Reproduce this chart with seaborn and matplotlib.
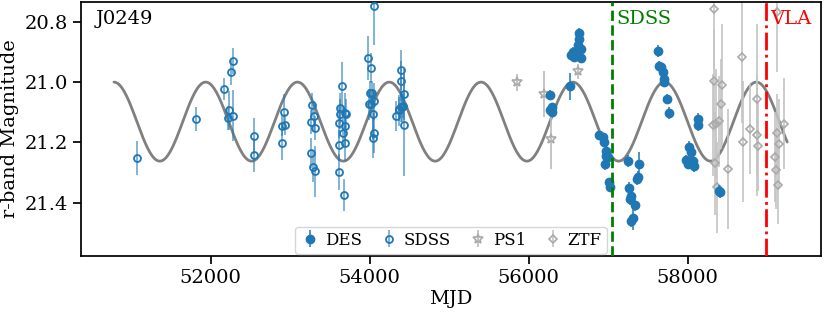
import numpy as np
import pandas as pd
import matplotlib
matplotlib.use("Agg")
import matplotlib.pyplot as plt
import matplotlib.transforms as mtransforms
import seaborn as sns

# DES photometry (filled circles)
des_mjd = [56270, 56287, 56296, 56270, 56525, 56638, 56630, 56617, 56554, 56534,
           56597, 56660, 56660, 56576, 56890, 56931, 56952, 56974, 56974, 56994,
           57015, 57024, 56965, 57245, 57392, 57371, 57358, 57266, 57288, 57275,
           57342, 57308, 57288, 57631, 57643, 57665, 57685, 57697, 57706, 57735,
           57769, 58124, 58133, 58011, 58041, 57978, 58020, 58062, 58083, 57999,
           58409, 58388]
des_mag = [21.042, 21.083, 21.100, 21.094, 21.014, 20.837, 20.856, 20.878, 20.900, 20.911,
           20.906, 20.889, 20.919, 20.917, 21.177, 21.183, 21.199, 21.227, 21.244, 21.249,
           21.332, 21.349, 21.271, 21.260, 21.271, 21.316, 21.321, 21.352, 21.376, 21.387,
           21.406, 21.450, 21.462, 20.898, 20.945, 20.950, 20.967, 20.989, 21.000, 21.055,
           21.103, 21.122, 21.141, 21.214, 21.233, 21.258, 21.266, 21.260, 21.277, 21.271,
           21.365, 21.360]
des_err = [0.015, 0.015, 0.015, 0.015, 0.045, 0.015, 0.015, 0.015, 0.015, 0.015,
           0.015, 0.015, 0.015, 0.015, 0.015, 0.015, 0.015, 0.015, 0.015, 0.015,
           0.015, 0.015, 0.02, 0.02, 0.04, 0.02, 0.02, 0.02, 0.02, 0.02,
           0.02, 0.04, 0.02, 0.02, 0.015, 0.015, 0.015, 0.015, 0.015, 0.015,
           0.02, 0.02, 0.02, 0.02, 0.02, 0.015, 0.015, 0.015, 0.02, 0.015,
           0.02, 0.02]

# SDSS photometry (open circles)
sdss_mjd = [51071, 51815, 52167, 52259, 52284, 52230, 52214, 52284, 52548, 52548,
            52904, 52904, 52933, 52929, 53281, 53297, 53269, 53310, 53260, 53289,
            53314, 53653, 53633, 53624, 53687, 53708, 53620, 53695, 53666, 53687,
            53612, 53620, 53674, 54055, 53980, 54017, 54001, 54035, 53992, 54051,
            54013, 54042, 54051, 54038, 54394, 54390, 54428, 54365, 54390, 54411,
            54336, 54432, 54375, 54420]
sdss_mag = [21.251, 21.121, 21.023, 20.968, 20.930, 21.094, 21.120, 21.111, 21.179, 21.241,
            21.203, 21.144, 21.142, 21.100, 21.075, 21.111, 21.133, 21.151, 21.234, 21.280,
            21.296, 21.013, 21.085, 21.105, 21.102, 21.105, 21.134, 21.147, 21.169, 21.203,
            21.210, 21.299, 21.375, 20.748, 20.921, 20.952, 21.035, 21.037, 21.074, 21.064,
            21.072, 21.107, 21.169, 21.186, 20.959, 20.997, 21.041, 21.094, 21.083, 21.081,
            21.113, 21.142, 21.088, 21.078]
sdss_err = [0.056, 0.040, 0.036, 0.043, 0.043, 0.066, 0.040, 0.085, 0.060, 0.056,
            0.056, 0.035, 0.035, 0.060, 0.040, 0.050, 0.040, 0.040, 0.050, 0.050,
            0.085, 0.080, 0.050, 0.050, 0.066, 0.050, 0.050, 0.066, 0.050, 0.060,
            0.050, 0.060, 0.053, 0.130, 0.073, 0.050, 0.040, 0.040, 0.050, 0.060,
            0.040, 0.083, 0.066, 0.066, 0.066, 0.066, 0.083, 0.050, 0.050, 0.050,
            0.050, 0.170, 0.040, 0.040]

# PS1 photometry (stars)
ps1_mjd = [55847, 56190, 56283, 56617]
ps1_mag = [21.001, 21.039, 21.188, 20.964]
ps1_err = [0.027, 0.077, 0.100, 0.025]

# ZTF photometry (diamonds)
ztf_mjd = [58325, 58325, 58426, 58418, 58313, 58355, 58397, 58343, 58363, 58501,
           58682, 58690, 58782, 58865, 58865, 58883, 59117, 59125, 59150, 59100,
           59109, 59129, 59213]
ztf_mag = [20.758, 20.997, 21.008, 21.072, 21.142, 21.138, 21.130, 21.269, 21.349, 21.288,
           20.917, 21.197, 21.155, 21.057, 21.177, 21.211, 20.767, 21.168, 21.205, 21.249,
           21.291, 21.340, 21.138]
ztf_err = [0.20, 0.17, 0.20, 0.15, 0.17, 0.18, 0.15, 0.17, 0.15, 0.20,
           0.22, 0.20, 0.15, 0.25, 0.20, 0.15, 0.20, 0.13, 0.15, 0.15,
           0.13, 0.13, 0.15]

# sinusoidal model parameters
MODEL_PERIOD = 1154.0
MODEL_T0 = 50785.0
MODEL_MEAN = 21.131
MODEL_AMP = 0.131
MODEL_START, MODEL_END = 50785, 59251

SDSS_SPEC_MJD = 57042
VLA_MJD = 58980

BLUE = "#1f77b4"

sns.set_theme(style="ticks")
plt.rcParams['font.family'] = ['DejaVu Serif']
plt.rcParams['font.size'] = 14
plt.rcParams['xtick.labelsize'] = 14
plt.rcParams['ytick.labelsize'] = 14
plt.rcParams['axes.labelsize'] = 14
plt.rcParams['axes.edgecolor'] = 'black'
plt.rcParams['xtick.color'] = 'black'
plt.rcParams['ytick.color'] = 'black'
plt.rcParams['text.color'] = 'black'
plt.rcParams['axes.labelcolor'] = 'black'

fig, ax = plt.subplots(figsize=(8.3, 3.12), dpi=100)
fig.subplots_adjust(left=0.0976, right=0.989, bottom=0.179, top=0.994)

t = np.linspace(MODEL_START, MODEL_END, 600)
model = pd.DataFrame({
    'MJD': t,
    'mag': MODEL_MEAN - MODEL_AMP * np.cos(2 * np.pi * (t - MODEL_T0) / MODEL_PERIOD),
})
sns.lineplot(data=model, x='MJD', y='mag', color='grey', lw=2, ax=ax, zorder=1)

ax.errorbar(des_mjd, des_mag, yerr=des_err, fmt='o', color=BLUE, ms=6,
            ecolor=BLUE, elinewidth=1.1, label='DES', zorder=4)
ax.errorbar(sdss_mjd, sdss_mag, yerr=sdss_err, fmt='o', mfc='none', mec=BLUE,
            mew=1.3, ms=5, ecolor=(0.12, 0.47, 0.71, 0.6), elinewidth=1.3,
            label='SDSS', zorder=3)
ax.errorbar(ps1_mjd, ps1_mag, yerr=ps1_err, fmt='*', mfc='none', mec='#aaaaaa',
            mew=1.2, ms=7, ecolor='#bbbbbb', elinewidth=1.2, label='PS1', zorder=2)
ax.errorbar(ztf_mjd, ztf_mag, yerr=ztf_err, fmt='D', mfc='none', mec='#aaaaaa',
            mew=1.2, ms=4.5, ecolor='#c4c4c4', elinewidth=1.2, label='ZTF', zorder=2)

ax.axvline(SDSS_SPEC_MJD, color='green', ls='--', lw=2, zorder=5)
ax.axvline(VLA_MJD, color='red', ls='-.', lw=2, zorder=5)
trans = mtransforms.blended_transform_factory(ax.transData, ax.transAxes)
ax.text(SDSS_SPEC_MJD + 60, 0.97, 'SDSS', color='green', transform=trans,
        ha='left', va='top', fontsize=14)
ax.text(VLA_MJD + 60, 0.97, 'VLA', color='red', transform=trans,
        ha='left', va='top', fontsize=14)
ax.text(0.02, 0.97, 'J0249', transform=ax.transAxes, ha='left', va='top', fontsize=14)

ax.set_xlim(50371, 59674)
ax.set_ylim(21.577, 20.734)
ax.set_xticks([52000, 54000, 56000, 58000])
ax.set_yticks([20.8, 21.0, 21.2, 21.4])
ax.set_xlabel('MJD', labelpad=2)
ax.set_ylabel('r-band Magnitude', labelpad=4)

ax.legend(loc='lower center', ncol=4, fontsize=12, handletextpad=0.3,
          columnspacing=1.0, borderaxespad=0.15, borderpad=0.3, handlelength=1.2)

fig.savefig('out.png', dpi=100)
